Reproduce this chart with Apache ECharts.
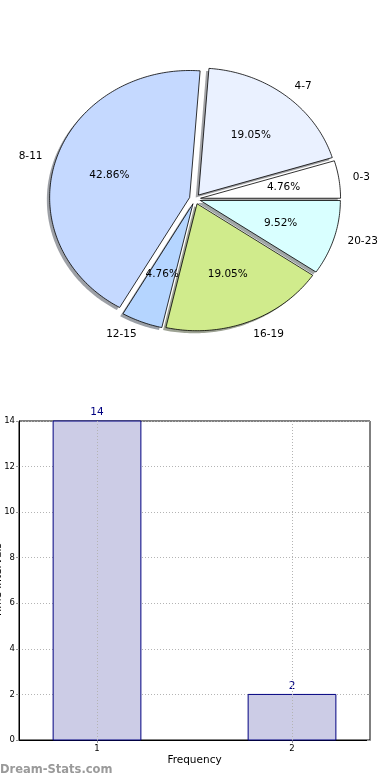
<!DOCTYPE html>
<html>
<head>
<meta charset="utf-8">
<script src="https://cdn.jsdelivr.net/npm/echarts@6/dist/echarts.min.js"></script>
<style>html,body{margin:0;padding:0;background:#fff;}#c{width:390px;height:780px;}</style>
</head>
<body>
<div id="c"></div>
<script>
// ---- data ----
const pieLabels = ['0-3', '4-7', '8-11', '12-15', '16-19', '20-23'];
const pieValues = [1, 4, 9, 1, 4, 2];
const pieColors = ['#ffffff', '#eaf1ff', '#c5d9ff', '#b5d5ff', '#d0eb8c', '#d9ffff'];
const barX = [1, 2];
const barY = [14, 2];
const barXTicks = [1, 2];
const yTickMax = 14;
const xAxisTitle = 'Frequency';
const yAxisTitle = 'Time Intervals';
const watermark = 'Dream-Stats.com';

const FONT = 'DejaVu Sans';
const explode = 0.04;
const total = pieValues.reduce((a, b) => a + b, 0);
const cum = [0];
pieValues.forEach(v => cum.push(cum[cum.length - 1] + v));

function shadeColor(hex) {
  const r = parseInt(hex.slice(1, 3), 16), g = parseInt(hex.slice(3, 5), 16), b = parseInt(hex.slice(5, 7), 16);
  return 'rgba(' + Math.round(r * 0.3) + ',' + Math.round(g * 0.3) + ',' + Math.round(b * 0.3) + ',0.5)';
}

function wedgePoints(i, api, ox, oy) {
  const a0 = cum[i] / total * Math.PI * 2;
  const a1 = cum[i + 1] / total * Math.PI * 2;
  const mid = (a0 + a1) / 2;
  const ex = explode * Math.cos(mid) + ox, ey = explode * Math.sin(mid) + oy;
  const pts = [api.coord([ex, ey])];
  const n = Math.max(4, Math.ceil((a1 - a0) / (Math.PI / 180)));
  for (let k = 0; k <= n; k++) {
    const a = a0 + (a1 - a0) * k / n;
    pts.push(api.coord([ex + Math.cos(a), ey + Math.sin(a)]));
  }
  return { pts, mid };
}

const pieData = pieValues.map((v, i) => [i, v]);

const option = {
  animation: false,
  backgroundColor: '#ffffff',
  textStyle: { fontFamily: FONT },
  graphic: [{
    type: 'text', left: 0, top: 764,
    style: { text: watermark, fontFamily: FONT, fontSize: 11.5, fill: '#9a9a9a', fontWeight: 'bold' }
  }],
  grid: [
    { left: 55, width: 280, top: 72, height: 254, show: false, containLabel: false, outerBoundsMode: 'none' },
    { left: 19, width: 351, top: 421, height: 319, show: true, borderColor: '#000', borderWidth: 1, backgroundColor: 'transparent', containLabel: false, outerBoundsMode: 'none' }
  ],
  xAxis: [
    { gridIndex: 0, type: 'value', min: -1, max: 1, show: false },
    {
      gridIndex: 1, type: 'value', min: 0.6, max: 2.4,
      name: xAxisTitle, nameLocation: 'middle', nameGap: 15, nameMoveOverlap: false,
      nameTextStyle: { fontFamily: FONT, fontSize: 10.5, color: '#000' },
      axisLine: { show: true, lineStyle: { color: '#000', width: 1 } },
      axisTick: { show: true, customValues: barXTicks, length: 3, lineStyle: { color: '#999' } },
      axisLabel: { show: true, customValues: barXTicks, fontFamily: FONT, fontSize: 8.5, color: '#000', margin: 4 },
      splitLine: { show: false }
    }
  ],
  yAxis: [
    { gridIndex: 0, type: 'value', min: -1, max: 1, show: false },
    {
      gridIndex: 1, type: 'value', min: 0, max: yTickMax, interval: 2,
      name: yAxisTitle, nameLocation: 'middle', nameGap: 15, nameRotate: 90, nameMoveOverlap: false,
      nameTextStyle: { fontFamily: FONT, fontSize: 10.5, color: '#000' },
      axisLine: { show: true, lineStyle: { color: '#000', width: 1 } },
      axisTick: { show: true, length: 3, lineStyle: { color: '#999' } },
      axisLabel: { fontFamily: FONT, fontSize: 8.5, color: '#000', margin: 4 },
      splitLine: { show: true, lineStyle: { color: '#b4b4b4', type: [1, 2], width: 1 } }
    },
    {
      gridIndex: 1, type: 'value', min: 0, max: yTickMax, interval: 2, position: 'right',
      axisLine: { show: false }, axisLabel: { show: false }, splitLine: { show: false },
      axisTick: { show: true, inside: true, length: 3, lineStyle: { color: '#999' } }
    }
  ],
  series: [
    {
      type: 'custom', xAxisIndex: 0, yAxisIndex: 0, clip: false, silent: true, z: 1,
      data: pieData,
      renderItem: function (params, api) {
        const i = params.dataIndex;
        const w = wedgePoints(i, api, -0.02, -0.02);
        return { type: 'polygon', shape: { points: w.pts }, style: { fill: shadeColor(pieColors[i]), stroke: null } };
      }
    },
    {
      type: 'custom', xAxisIndex: 0, yAxisIndex: 0, clip: false, silent: true, z: 2,
      data: pieData,
      renderItem: function (params, api) {
        const i = params.dataIndex;
        const w = wedgePoints(i, api, 0, 0);
        const c = Math.cos(w.mid), s = Math.sin(w.mid);
        const lab = api.coord([(1.1 + explode) * c, (1.1 + explode) * s]);
        const pct = api.coord([(0.6 + explode) * c, (0.6 + explode) * s]);
        const pctText = (pieValues[i] / total * 100).toFixed(2) + '%';
        return {
          type: 'group', children: [
            { type: 'polygon', shape: { points: w.pts }, style: { fill: pieColors[i], stroke: '#000', lineWidth: 0.8 } },
            { type: 'text', z2: 10, x: lab[0], y: lab[1], style: { text: pieLabels[i], fontFamily: FONT, fontSize: 10.5, fill: '#000', align: c > 0 ? 'left' : 'right', verticalAlign: 'middle' } },
            { type: 'text', z2: 10, x: pct[0], y: pct[1], style: { text: pctText, fontFamily: FONT, fontSize: 10.5, fill: '#000', align: 'center', verticalAlign: 'middle' } }
          ]
        };
      }
    },
    {
      type: 'custom', xAxisIndex: 1, yAxisIndex: 1, silent: true, z: 3, clip: false,
      data: barX.map((x, i) => [x, barY[i]]),
      renderItem: function (params, api) {
        const x = api.value(0), y = api.value(1);
        const p0 = api.coord([x - 0.225, y]);
        const p1 = api.coord([x + 0.225, 0]);
        const top = api.coord([x, y]);
        return {
          type: 'group', children: [
            { type: 'rect', shape: { x: p0[0], y: p0[1], width: p1[0] - p0[0], height: p1[1] - p0[1] }, style: { fill: '#cccce6', stroke: '#000080', lineWidth: 1 } },
            { type: 'text', x: top[0], y: top[1] - 3, style: { text: String(y), fontFamily: FONT, fontSize: 10.5, fill: '#000080', align: 'center', verticalAlign: 'bottom' } }
          ]
        };
      },
      markLine: {
        silent: true, symbol: 'none', label: { show: false },
        lineStyle: { color: '#b4b4b4', type: [1, 2], width: 1 },
        data: barXTicks.map(v => ({ xAxis: v }))
      }
    }
  ]
};

const chart = echarts.init(document.getElementById('c'), null, { renderer: 'canvas' });
chart.setOption(option);
</script>
</body>
</html>
